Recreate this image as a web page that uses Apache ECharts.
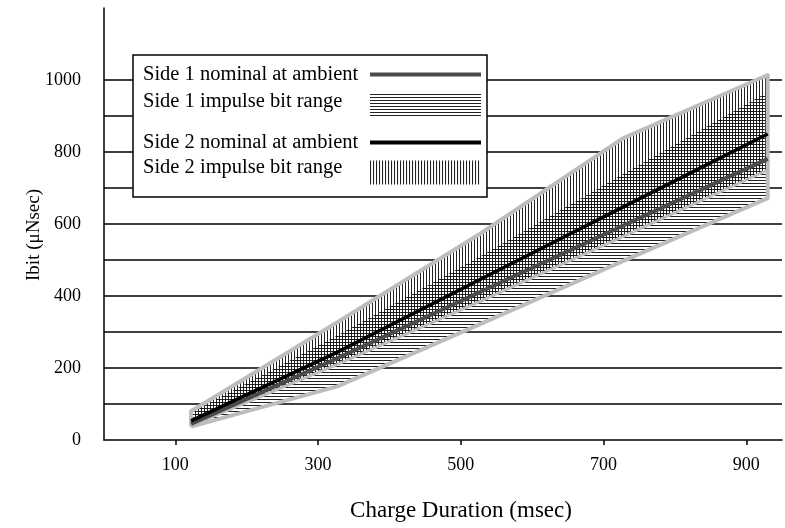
<!DOCTYPE html>
<html><head><meta charset="utf-8">
<script src="https://cdn.jsdelivr.net/npm/echarts@6/dist/echarts.min.js"></script>
<style>html,body{margin:0;padding:0;background:#fff}#c{width:785px;height:528px}</style>
</head><body><div id="c"></div>
<script>
// ---- data ----
const durationMs   = [122, 327, 527, 727, 930];
const side1Nominal = [45, 227, 411, 595, 781];
const side2Nominal = [53, 244, 446, 647, 850];
const side1Low     = [37, 149, 322, 497, 672];
const side1High    = [76, 290, 510, 738, 967];
const side2Low     = [40, 210, 385, 565, 750];
const side2High    = [80, 327, 573, 838, 1014];
const xTickValues  = [100, 300, 500, 700, 900];
const yLabelValues = [0, 200, 400, 600, 800, 1000];
const gridValues   = [100, 200, 300, 400, 500, 600, 700, 800, 900, 1000];

const FONT = '"Liberation Serif", "Times New Roman", serif';

function pts(ys) { return durationMs.map((x, i) => [x, ys[i]]); }

function hatch(vertical) {
  const c = document.createElement('canvas');
  c.width = 3; c.height = 3;
  const g = c.getContext('2d');
  g.fillStyle = 'rgba(10,10,10,0.9)';
  if (vertical) g.fillRect(0, 0, 1, 3); else g.fillRect(0, 0, 3, 1);
  return c;
}
const hPattern = { image: hatch(false), repeat: 'repeat' };
const vPattern = { image: hatch(true), repeat: 'repeat' };

const outline = pts(side1Low).concat(pts(side2High).reverse());
outline.push([durationMs[0], side1Low[0]]);

function band(name, lo, hi, fill, z) {
  return {
    name, type: 'custom', z, silent: true,
    itemStyle: { color: fill === '#fff' ? '#fff' : '#333', borderWidth: 0 },
    encode: { x: 0, y: [1, 2] },
    data: durationMs.map((x, i) => [x, lo[i], hi[i]]),
    renderItem: function (params, api) {
      if (params.dataIndex !== 0) return null;
      const poly = [];
      for (let i = 0; i < durationMs.length; i++) poly.push(api.coord([durationMs[i], lo[i]]));
      for (let i = durationMs.length - 1; i >= 0; i--) poly.push(api.coord([durationMs[i], hi[i]]));
      return { type: 'polygon', shape: { points: poly }, style: { fill: fill, stroke: null } };
    }
  };
}

function legendItem(name, top, iconH, color, padB) {
  return {
    orient: 'vertical', left: 143, top, padding: 0, align: 'right',
    itemWidth: 111, itemHeight: iconH, selectedMode: false, z: 6,
    data: [{ name, icon: 'rect', itemStyle: { color, borderWidth: 0 } }],
    formatter: '{a|{name}}',
    textStyle: { fontFamily: FONT, fontSize: 20.5, color: '#000',
      rich: { a: { width: 222, align: 'left', fontFamily: FONT, fontSize: 20.5, color: '#000', padding: [0, 0, padB, 0] } } }
  };
}

const chart = echarts.init(document.getElementById('c'), null, { renderer: 'canvas' });
chart.setOption({
  animation: false,
  backgroundColor: '#fff',
  textStyle: { fontFamily: FONT },
  grid: { left: 104, right: 3, top: 8, bottom: 88, containLabel: false },
  xAxis: {
    type: 'value', min: 0, max: 950,
    name: 'Charge Duration (msec)', nameLocation: 'middle', nameGap: 59,
    nameTextStyle: { fontFamily: FONT, fontSize: 23, color: '#000', padding: [0, 0, 0, 36] },
    axisLine: { lineStyle: { color: '#000', width: 1.5 } },
    axisTick: { show: true, length: 5, customValues: xTickValues, lineStyle: { color: '#000', width: 1.5 } },
    axisLabel: { customValues: xTickValues, margin: 16, fontFamily: FONT, fontSize: 18, color: '#000' },
    splitLine: { show: false }
  },
  yAxis: {
    type: 'value', min: 0, max: 1200, interval: 100,
    name: 'Ibit (\u03bcNsec)', nameLocation: 'middle', nameGap: 60, nameRotate: 90, nameMoveOverlap: false,
    nameTextStyle: { fontFamily: FONT, fontSize: 19, color: '#000', padding: [0, 22, 0, 0] },
    axisLine: { show: true, lineStyle: { color: '#000', width: 1.5 } },
    axisTick: { show: false },
    axisLabel: { margin: 23, fontFamily: FONT, fontSize: 18, color: '#000',
      formatter: v => (yLabelValues.indexOf(v) >= 0 ? String(v) : '') },
    splitLine: { show: false }
  },
  legend: [
    legendItem('Side 1 nominal at ambient', 64, 4, '#4a4a4a', 0),
    legendItem('Side 1 impulse bit range', 91, 23, hPattern, 8),
    legendItem('Side 2 nominal at ambient', 132, 4, '#000', 0),
    legendItem('Side 2 impulse bit range', 157, 24, vPattern, 10)
  ],
  graphic: [{
    type: 'rect', z: 5, shape: { x: 133, y: 55, width: 354, height: 142 },
    style: { fill: '#fff', stroke: '#000', lineWidth: 1.5 }
  }],
  series: [
    { type: 'line', data: [], z: 1, silent: true,
      markLine: { z: 1, silent: true, symbol: 'none', label: { show: false },
        lineStyle: { color: '#000', width: 1.5, type: 'solid' },
        data: gridValues.map(v => ({ yAxis: v })) } },
    band('', side1Low, side2High, '#fff', 2),
    band('Side 1 impulse bit range', side1Low, side1High, hPattern, 3),
    band('Side 2 impulse bit range', side2Low, side2High, vPattern, 3),
    { type: 'line', data: outline, symbol: 'none', silent: true, z: 4,
      lineStyle: { color: '#bdbdbd', width: 4, join: 'round' } },
    { type: 'line', data: pts(side2Low), symbol: 'none', silent: true, z: 4,
      lineStyle: { color: '#bdbdbd', width: 3 } },
    { name: 'Side 1 nominal at ambient', type: 'line', data: pts(side1Nominal), symbol: 'none', z: 4,
      itemStyle: { color: '#4a4a4a' }, lineStyle: { color: '#4a4a4a', width: 4 } },
    { name: 'Side 2 nominal at ambient', type: 'line', data: pts(side2Nominal), symbol: 'none', z: 4,
      itemStyle: { color: '#000' }, lineStyle: { color: '#000', width: 3.5 } }
  ]
});
</script></body></html>
